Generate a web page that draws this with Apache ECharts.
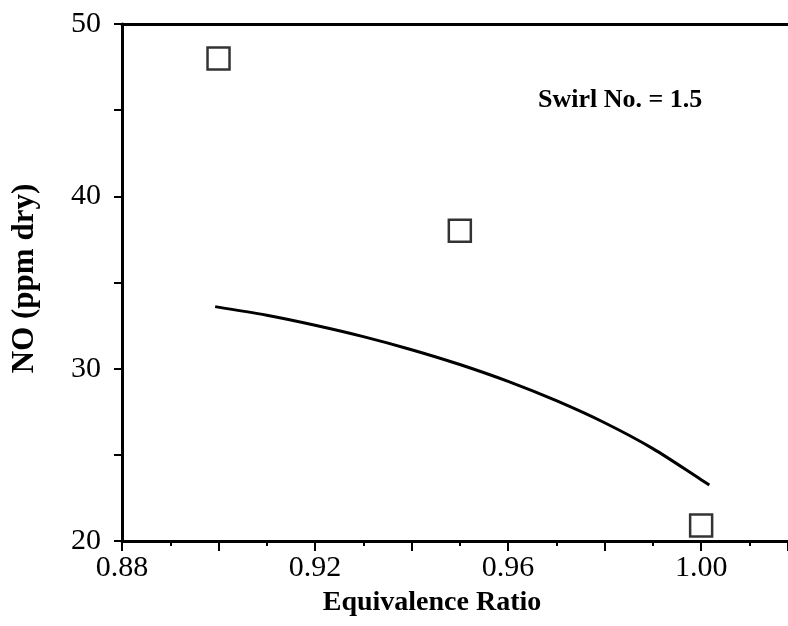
<!DOCTYPE html>
<html>
<head>
<meta charset="utf-8">
<script src="https://cdn.jsdelivr.net/npm/echarts@6/dist/echarts.min.js"></script>
<style>
  html, body { margin: 0; padding: 0; background: #fff; }
  #chart { width: 788px; height: 626px; }
</style>
</head>
<body>
<div id="chart"></div>
<script>
// Measured NO emissions (squares)
var measuredPhi = [0.90, 0.95, 1.00];
var measuredNO = [48.0, 38.0, 20.9];

// Model prediction (solid curve)
var modelPhi = [0.8993, 0.91, 0.92, 0.93, 0.94, 0.95, 0.96, 0.97, 0.98, 0.99, 1.00, 1.0017];
var modelNO  = [33.6, 33.1, 32.52, 31.86, 31.1, 30.24, 29.26, 28.14, 26.86, 25.36, 23.56, 23.25];

var xLabels = [0.88, 0.92, 0.96, 1.00];
var yLabels = [20, 30, 40, 50];

var serif = '"Liberation Serif", "DejaVu Serif", serif';

function pair(xs, ys) {
  return xs.map(function (x, i) { return [x, ys[i]]; });
}

var chart = echarts.init(document.getElementById('chart'), null, { renderer: 'canvas' });

chart.setOption({
  animation: false,
  backgroundColor: '#ffffff',
  grid: { left: 122, top: 24, right: 0, bottom: 85, containLabel: false },
  xAxis: [{
    type: 'value',
    min: 0.88,
    max: 1.018,
    interval: 0.02,
    position: 'bottom',
    name: 'Equivalence Ratio',
    nameLocation: 'middle',
    nameGap: 48,
    nameTextStyle: { fontFamily: serif, fontWeight: 'bold', fontSize: 28, color: '#000', padding: [0, 46, 0, 0] },
    axisLine: { show: true, onZero: false, lineStyle: { color: '#000', width: 3 } },
    axisTick: { show: true, inside: false, length: 10, lineStyle: { color: '#000', width: 2 } },
    minorTick: { show: true, splitNumber: 2, length: 5, lineStyle: { color: '#000', width: 2 } },
    splitLine: { show: false },
    axisLabel: {
      showMaxLabel: false,
      margin: 12,
      fontFamily: serif, fontSize: 30, color: '#000',
      formatter: function (v) {
        for (var i = 0; i < xLabels.length; i++) {
          if (Math.abs(v - xLabels[i]) < 1e-6) return xLabels[i].toFixed(2);
        }
        return '';
      }
    }
  }, {
    // plain frame line along the top
    type: 'value',
    min: 0.88,
    max: 1.018,
    position: 'top',
    axisLine: { show: true, onZero: false, lineStyle: { color: '#000', width: 3 } },
    axisTick: { show: false },
    axisLabel: { show: false },
    splitLine: { show: false }
  }],
  yAxis: {
    type: 'value',
    min: 20,
    max: 50,
    interval: 5,
    name: 'NO (ppm dry)',
    nameLocation: 'middle',
    nameGap: 82,
    nameRotate: 90,
    nameTextStyle: { fontFamily: serif, fontWeight: 'bold', fontSize: 31, color: '#000', padding: [0, 0, 0, 8] },
    axisLine: { show: true, onZero: false, lineStyle: { color: '#000', width: 3 } },
    axisTick: { show: true, inside: false, length: 8, lineStyle: { color: '#000', width: 2 } },
    splitLine: { show: false },
    axisLabel: {
      margin: 21,
      fontFamily: serif, fontSize: 30, color: '#000',
      formatter: function (v) {
        return yLabels.indexOf(v) >= 0 ? String(v) : '';
      }
    }
  },
  series: [{
    name: 'Model',
    type: 'line',
    data: pair(modelPhi, modelNO),
    smooth: 0.3,
    showSymbol: false,
    lineStyle: { color: '#000', width: 3 },
    z: 3
  }, {
    name: 'Measured',
    type: 'scatter',
    data: pair(measuredPhi, measuredNO),
    symbol: 'rect',
    symbolSize: 22,
    itemStyle: { color: '#fff', borderColor: '#000', borderWidth: 2.5 },
    z: 4
  }],
  graphic: [{
    type: 'text',
    left: 538,
    top: 87,
    style: {
      text: 'Swirl No. = 1.5',
      fontFamily: serif,
      fontWeight: 'bold',
      fontSize: 26,
      fill: '#000'
    }
  }]
});
</script>
</body>
</html>
